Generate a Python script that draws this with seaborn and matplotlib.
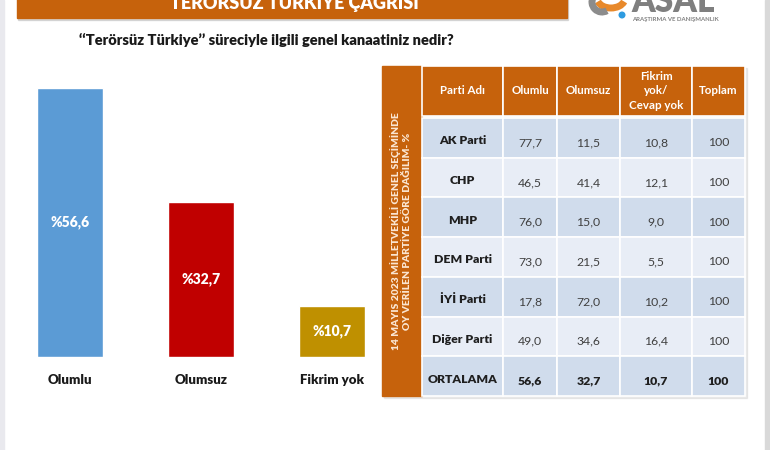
import numpy as np
import seaborn as sns
import matplotlib.pyplot as plt
from matplotlib.patches import Rectangle, Circle, Arc

# veriler - sol grafik
kategoriler = ['Olumlu', 'Olumsuz', 'Fikrim yok']
oranlar = [56.6, 32.7, 10.7]
renkler = ['#5B9BD5', '#C00000', '#BF9000']

# veriler - tablo
partiler = ['AK Parti', 'CHP', 'MHP', 'DEM Parti', 'İYİ Parti', 'Diğer Parti', 'ORTALAMA']
olumlu = [77.7, 46.5, 76.0, 73.0, 17.8, 49.0, 56.6]
olumsuz = [11.5, 41.4, 15.0, 21.5, 72.0, 34.6, 32.7]
fikrim_yok = [10.8, 12.1, 9.0, 5.5, 10.2, 16.4, 10.7]
toplam = [100, 100, 100, 100, 100, 100, 100]
basliklar = ['Parti Adı', 'Olumlu', 'Olumsuz', 'Fikrim\nyok/\nCevap yok', 'Toplam']
yan_baslik = '14 MAYIS 2023 MİLLETVEKİLİ GENEL SEÇİMİNDE\nOY VERİLEN PARTİYE GÖRE DAĞILIM- %'

sns.set_theme(style='white')
plt.rcParams['font.family'] = ['Lato', 'DejaVu Sans']

TURUNCU = '#C6620C'


def virgul(v):
    return f'{v:.1f}'.replace('.', ',')


fig = plt.figure(figsize=(7.7, 4.5), dpi=100)

# arka plan ve süslemeler için piksel koordinatlı eksen
bg = fig.add_axes([0, 0, 1, 1], zorder=0)
bg.set_xlim(0, 770)
bg.set_ylim(450, 0)
bg.axis('off')

# hafif gri gradyan
g = np.clip((np.linspace(0, 450, 200) - 220) / 200, 0, 1)
grad = 1 - 0.13 * g
img = np.dstack([grad, grad, grad])[:, :1, :].repeat(2, axis=1)
bg.imshow(img, extent=[0, 765, 450, 0], aspect='auto', zorder=0)
bg.add_patch(Rectangle((765, 0), 5, 450, color='#D9D9D9', zorder=1))
bg.add_patch(Rectangle((0, 0), 4, 450, color='#E9E9EE', zorder=1))

# üst bant
bg.add_patch(Rectangle((18, -5), 550, 25, color='#BBBBBB', alpha=0.5, zorder=1))
bg.add_patch(Rectangle((17, -5), 550, 23, color=TURUNCU, zorder=2))
bg.text(294, 1, 'TERÖRSÜZ TÜRKİYE ÇAĞRISI', color='white', fontsize=13,
        fontweight='heavy', ha='center', va='center', zorder=3)

# logo
bg.add_patch(Arc((611, -2), 28, 20, theta1=15, theta2=165, lw=5, color='#E8892B', zorder=3))
bg.add_patch(Arc((602, 2), 20, 20, theta1=60, theta2=210, lw=5, color='#8C8C8C', zorder=3))
bg.add_patch(Circle((622, 15), 2.8, color='#2E9BE0', zorder=3))
bg.text(673, 2, 'ASAL', color='#7F7F7F', fontsize=24, fontweight='heavy',
        ha='center', va='center', zorder=3)
bg.text(675, 19, 'ARAŞTIRMA VE DANIŞMANLIK', color='#808080', fontsize=4.3,
        fontweight='bold', ha='center', va='center', zorder=3)

# soru
bg.text(79, 40, '‘‘Terörsüz Türkiye’’ süreciyle ilgili genel kanaatiniz nedir?',
        color='#1A1A1A', fontsize=10.5, fontweight='heavy', ha='left', va='center')

# tablo
kenarlar = np.cumsum([422, 81, 54, 63, 72, 53])
bas_ust, bas_h, bosluk, satir_h = 66, 50, 2, 39.7
bg.add_patch(Rectangle((384, 68), 363, 330, color='#BFBFBF', alpha=0.3, zorder=1))
bg.add_patch(Rectangle((382, bas_ust), 40, bas_h + bosluk + satir_h * len(partiler),
                       color=TURUNCU, zorder=2))
bg.text(401, bas_ust + (bas_h + bosluk + satir_h * len(partiler)) / 2, yan_baslik,
        rotation=90, color='#FBE6D2', fontsize=7.4, fontweight='heavy',
        ha='center', va='center', multialignment='center', linespacing=1.3, zorder=3)

for j, bas in enumerate(basliklar):
    x0, x1 = kenarlar[j], kenarlar[j + 1]
    bg.add_patch(Rectangle((x0, bas_ust), x1 - x0, bas_h, facecolor=TURUNCU,
                           edgecolor='white', lw=1.2, zorder=2))
    bg.text((x0 + x1) / 2, bas_ust + bas_h / 2, bas, color='white', fontsize=8.3,
            fontweight='bold', ha='center', va='center', linespacing=1.35, zorder=3)

sutunlar = [partiler, olumlu, olumsuz, fikrim_yok, toplam]
for i in range(len(partiler)):
    y0 = bas_ust + bas_h + bosluk + i * satir_h
    renk = '#D0DCEC' if i % 2 == 0 else '#E8EDF6'
    son = i == len(partiler) - 1
    for j, sutun in enumerate(sutunlar):
        x0, x1 = kenarlar[j], kenarlar[j + 1]
        bg.add_patch(Rectangle((x0, y0), x1 - x0, satir_h, facecolor=renk,
                               edgecolor='white', lw=1.2, zorder=2))
        v = sutun[i]
        if j == 0:
            metin, kalin, dy = v, True, 3
        elif j == 4:
            metin, kalin, dy = str(v), son, 5
        else:
            metin, kalin, dy = virgul(v), son, 5
        bg.text((x0 + x1) / 2, y0 + satir_h / 2 + dy, metin,
                color='#1F1F1F' if (kalin or j == 0) else '#404040',
                fontsize=8.8, fontweight='heavy' if kalin else 'normal',
                ha='center', va='center', zorder=3)

# sol çubuk grafik
ax = fig.add_axes([4.5 / 770, 93 / 450, 393 / 770, 297 / 450], zorder=2)
ax.patch.set_visible(False)
sns.barplot(x=kategoriler, y=oranlar, hue=kategoriler, palette=renkler,
            legend=False, width=0.5, saturation=1, ax=ax)
ax.set_xlim(-0.5, 2.5)
ax.set_ylim(0, 62.5)
for k, v in enumerate(oranlar):
    ax.text(k, v / 2, '%' + virgul(v), color='white', fontsize=10,
            fontweight='heavy', ha='center', va='center')
ax.set_yticks([])
ax.set_ylabel('')
ax.tick_params(axis='x', length=0, pad=12, labelsize=9.5)
for t in ax.get_xticklabels():
    t.set_fontweight('heavy')
    t.set_color('#1A1A1A')
sns.despine(ax=ax, left=True, bottom=True)

fig.savefig('out.png', dpi=100)
